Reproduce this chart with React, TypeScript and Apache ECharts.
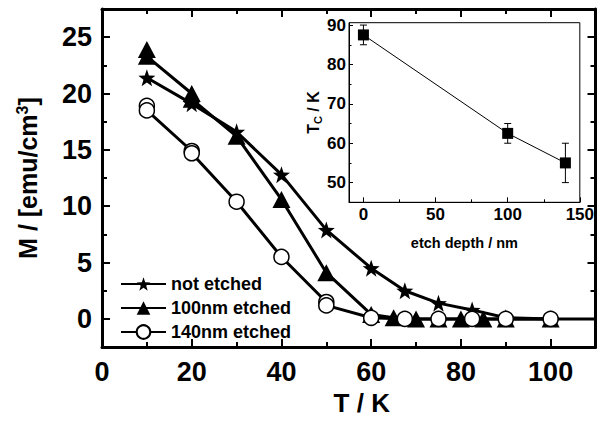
import React, { useEffect, useRef } from "react";
import * as echarts from "echarts";

// Main plot data: magnetisation M (emu/cm^3) vs temperature T (K)
const T_NOT = [10, 20, 30, 40, 50, 60, 67.5, 75, 82.5, 90, 100];
const M_NOT = [21.4, 19.1, 16.6, 12.8, 7.9, 4.5, 2.5, 1.4, 0.8, 0.1, 0];
const T_100 = [10, 10, 20, 20, 30, 40, 50, 60, 65, 70, 75, 80, 85, 90, 100];
const M_100 = [23.9, 23.3, 20.0, 19.5, 16.2, 10.6, 4.1, 0.4, 0.1, 0, 0, 0, 0, 0, 0];
const T_140 = [10, 10, 20, 20, 30, 40, 50, 50, 60, 67.5, 75, 82.5, 90, 100, 115];
const M_140 = [18.9, 18.5, 14.9, 14.7, 10.4, 5.5, 1.5, 1.2, 0.1, 0, 0, 0, 0, 0, 0];
const SERIES_NAMES = ["not etched", "100nm etched", "140nm etched"];

// Inset data: Tc vs etch depth
const DEPTH = [0, 100, 140];
const TC = [87.5, 62.5, 55];
const TC_LO = [85, 60, 50];
const TC_HI = [90, 65, 60];

// Tick values
const X_MAJOR = [0, 20, 40, 60, 80, 100];
const X_MINOR = [10, 30, 50, 70, 90];
const Y_MAJOR = [0, 5, 10, 15, 20, 25];
const Y_MINOR = [2.5, 7.5, 12.5, 17.5, 22.5];
const IX_MAJOR = [0, 50, 100, 150];
const IX_MINOR = [25, 75, 125];
const IY_MAJOR = [50, 60, 70, 80, 90];
const IY_MINOR = [55, 65, 75, 85];

const FONT = "'Liberation Sans', Arial, Helvetica, sans-serif";
const NARROW = "'Liberation Sans Narrow', 'Arial Narrow', 'Liberation Sans', sans-serif";
const STAR =
  "path://M0,-10 L2.35,-3.24 L9.51,-3.09 L3.8,1.24 L5.88,8.09 L0,4 L-5.88,8.09 L-3.8,1.24 L-9.51,-3.09 L-2.35,-3.24 Z";

const zip = (a: number[], b: number[]) => a.map((v, i) => [v, b[i]]);

export default function App() {
  const ref = useRef<HTMLDivElement>(null);
  useEffect(() => {
    const chart = echarts.init(ref.current!, null, { renderer: "svg" });
    const black = "#000";

    const mkAxis = (o: any) => ({
      type: "value",
      splitLine: { show: false },
      ...o,
    });

    const mainX = { gridIndex: 0, min: 0, max: 110 };
    const mainY = { gridIndex: 0, min: -2.5, max: 27.5 };
    const insX = { gridIndex: 1, min: -10, max: 150 };
    const insY = { gridIndex: 1, min: 45, max: 90.6 };

    const tick = (vals: number[], len: number, w: number) => ({
      show: true,
      inside: true,
      length: len,
      customValues: vals,
      lineStyle: { color: black, width: w },
    });

    const option: any = {
      animation: false,
      backgroundColor: "#fff",
      grid: [
        { left: 102, right: 1.5, top: 9, bottom: 67.5 },
        {
          left: 349,
          right: 13.5,
          top: 22.7,
          bottom: 218.7,
          show: true,
          backgroundColor: "#fff",
          borderColor: black,
          borderWidth: 1,
          z: 5,
        },
      ],
      legend: {
        orient: "vertical",
        left: 115,
        top: 270,
        itemWidth: 45,
        itemHeight: 17,
        itemGap: 6,
        data: SERIES_NAMES,
        textStyle: { fontFamily: FONT, fontSize: 18, fontWeight: "bold", color: black, lineHeight: 17 },
      },
      xAxis: [
        mkAxis({
          ...mainX,
          position: "bottom",
          axisLine: { show: true, onZero: false, lineStyle: { color: black, width: 3 } },
          axisTick: tick(X_MAJOR, 8, 2),
          axisLabel: {
            customValues: X_MAJOR,
            margin: 11,
            fontFamily: NARROW,
            fontSize: 27,
            fontWeight: "bold",
            color: black,
          },
          name: "T / K",
          nameLocation: "middle",
          nameGap: 36,
          nameTextStyle: {
            fontFamily: FONT,
            fontSize: 26,
            fontWeight: "bold",
            color: black,
            padding: [0, 0, 0, 26],
          },
        }),
        mkAxis({
          ...mainX,
          position: "bottom",
          axisLine: { show: false, onZero: false },
          axisTick: tick(X_MINOR, 5, 2),
          axisLabel: { show: false },
        }),
        mkAxis({
          ...mainX,
          position: "top",
          axisLine: { show: true, onZero: false, lineStyle: { color: black, width: 3 } },
          axisTick: tick(X_MAJOR, 8, 2),
          axisLabel: { show: false },
        }),
        mkAxis({
          ...mainX,
          position: "top",
          axisLine: { show: false, onZero: false },
          axisTick: tick(X_MINOR, 5, 2),
          axisLabel: { show: false },
        }),
        mkAxis({
          ...insX,
          position: "bottom",
          axisLine: { show: true, onZero: false, lineStyle: { color: black, width: 1 } },
          axisTick: tick(IX_MAJOR, 5, 1),
          axisLabel: {
            customValues: IX_MAJOR,
            margin: 4,
            fontFamily: NARROW,
            fontSize: 17,
            fontWeight: "bold",
            color: black,
          },
          name: "etch depth / nm",
          nameLocation: "middle",
          nameGap: 33,
          nameTextStyle: { fontFamily: FONT, fontSize: 14.5, fontWeight: "bold", color: black },
          z: 6,
        }),
        mkAxis({
          ...insX,
          position: "bottom",
          axisLine: { show: false, onZero: false },
          axisTick: tick(IX_MINOR, 3, 1),
          axisLabel: { show: false },
          z: 6,
        }),
      ],
      yAxis: [
        mkAxis({
          ...mainY,
          position: "left",
          axisLine: { show: true, onZero: false, lineStyle: { color: black, width: 3 } },
          axisTick: tick(Y_MAJOR, 8, 2),
          axisLabel: {
            customValues: Y_MAJOR,
            margin: 10,
            fontFamily: NARROW,
            fontSize: 27,
            fontWeight: "bold",
            color: black,
          },
          name: "{a|M / [emu/cm}{s|3}{a|]}",
          nameLocation: "middle",
          nameGap: 60,
          nameTextStyle: {
            rich: {
              a: { fontFamily: FONT, fontSize: 25, fontWeight: "bold", color: black, lineHeight: 28 },
              s: {
                fontFamily: FONT,
                fontSize: 16,
                fontWeight: "bold",
                color: black,
                verticalAlign: "top",
                lineHeight: 16,
              },
            },
          },
        }),
        mkAxis({
          ...mainY,
          position: "left",
          axisLine: { show: false, onZero: false },
          axisTick: tick(Y_MINOR, 5, 2),
          axisLabel: { show: false },
        }),
        mkAxis({
          ...mainY,
          position: "right",
          axisLine: { show: true, onZero: false, lineStyle: { color: black, width: 3 } },
          axisTick: tick(Y_MAJOR, 8, 2),
          axisLabel: { show: false },
        }),
        mkAxis({
          ...mainY,
          position: "right",
          axisLine: { show: false, onZero: false },
          axisTick: tick(Y_MINOR, 5, 2),
          axisLabel: { show: false },
        }),
        mkAxis({
          ...insY,
          position: "left",
          axisLine: { show: true, onZero: false, lineStyle: { color: black, width: 1 } },
          axisTick: tick(IY_MAJOR, 4, 1),
          axisLabel: {
            customValues: IY_MAJOR,
            margin: 3,
            fontFamily: NARROW,
            fontSize: 17,
            fontWeight: "bold",
            color: black,
          },
          name: "{a|T}{b|C}{a| / K}",
          nameLocation: "middle",
          nameGap: 24,
          nameTextStyle: {
            rich: {
              a: { fontFamily: FONT, fontSize: 16, fontWeight: "bold", color: black, lineHeight: 20 },
              b: {
                fontFamily: FONT,
                fontSize: 11,
                fontWeight: "bold",
                color: black,
                verticalAlign: "bottom",
                lineHeight: 11,
              },
            },
          },
          z: 6,
        }),
        mkAxis({
          ...insY,
          position: "left",
          axisLine: { show: false, onZero: false },
          axisTick: tick(IY_MINOR, 2.5, 1),
          axisLabel: { show: false },
          z: 6,
        }),
      ],
      series: [
        {
          name: SERIES_NAMES[0],
          type: "line",
          xAxisIndex: 0,
          yAxisIndex: 0,
          data: zip(T_NOT, M_NOT),
          symbol: STAR,
          symbolSize: 17,
          showAllSymbol: true,
          clip: true,
          lineStyle: { color: black, width: 3 },
          itemStyle: { color: black, borderWidth: 0 },
          z: 2,
        },
        {
          name: SERIES_NAMES[1],
          type: "line",
          xAxisIndex: 0,
          yAxisIndex: 0,
          data: zip(T_100, M_100),
          symbol: "triangle",
          symbolSize: [18, 17],
          showAllSymbol: true,
          clip: true,
          lineStyle: { color: black, width: 3 },
          itemStyle: { color: black, borderWidth: 0 },
          z: 3,
        },
        {
          name: SERIES_NAMES[2],
          type: "line",
          xAxisIndex: 0,
          yAxisIndex: 0,
          data: zip(T_140, M_140),
          symbol: "circle",
          symbolSize: 15,
          showAllSymbol: true,
          clip: true,
          lineStyle: { color: black, width: 3 },
          itemStyle: { color: "#fff", borderColor: black, borderWidth: 1.5 },
          z: 4,
        },
        {
          type: "custom",
          xAxisIndex: 4,
          yAxisIndex: 4,
          z: 7,
          data: DEPTH.map((d, i) => [d, TC_LO[i], TC_HI[i]]),
          encode: { x: 0, y: [1, 2] },
          renderItem: (params: any, api: any) => {
            const x = api.value(0);
            const lo = api.coord([x, api.value(1)]);
            const hi = api.coord([x, api.value(2)]);
            const w = 3.5;
            const st = { stroke: black, lineWidth: 1 };
            return {
              type: "group",
              children: [
                { type: "line", shape: { x1: lo[0], y1: lo[1], x2: hi[0], y2: hi[1] }, style: st },
                { type: "line", shape: { x1: lo[0] - w, y1: lo[1], x2: lo[0] + w, y2: lo[1] }, style: st },
                { type: "line", shape: { x1: hi[0] - w, y1: hi[1], x2: hi[0] + w, y2: hi[1] }, style: st },
              ],
            };
          },
        },
        {
          type: "line",
          xAxisIndex: 4,
          yAxisIndex: 4,
          z: 8,
          data: zip(DEPTH, TC),
          symbol: "rect",
          symbolSize: 11,
          lineStyle: { color: black, width: 1 },
          itemStyle: { color: black },
        },
      ],
    };
    chart.setOption(option);
    return () => chart.dispose();
  }, []);
  return (
    <div
      ref={ref}
      style={{ position: "absolute", left: 0, top: 0, width: 597, height: 421, background: "#fff" }}
    />
  );
}
